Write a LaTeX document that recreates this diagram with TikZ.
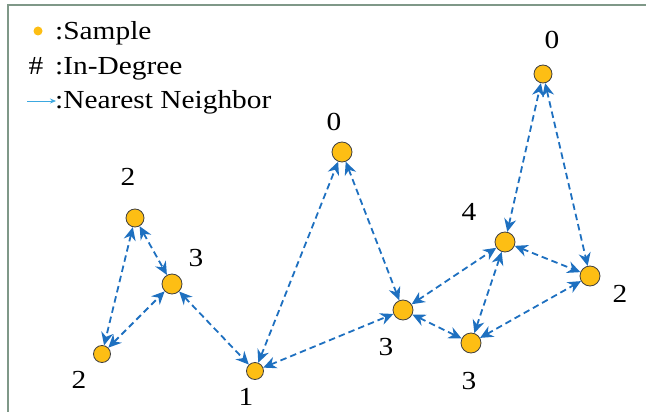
\documentclass[tikz,border=0pt]{standalone}
\usepackage{fontspec}
\setmainfont{Liberation Serif}
\usetikzlibrary{arrows.meta}
\definecolor{framegreen}{RGB}{127,152,136}
\definecolor{sampleorange}{RGB}{253,190,20}
\definecolor{nnblue}{RGB}{30,112,192}
\definecolor{legblue}{RGB}{60,168,224}
\newcommand{\widetxt}[1]{\scalebox{1.13}[1]{#1}}
\tikzset{
  sample/.style={circle, draw=black!75, line width=0.8pt, fill=sampleorange, inner sep=0pt, minimum size=#1},
  sample/.default=19pt,
  degree/.style={font=\fontsize{26}{30}\selectfont, inner sep=0pt},
  legtext/.style={font=\fontsize{26}{30}\selectfont, inner sep=0pt, anchor=base west},
  nn/.style={nnblue, line width=1.8pt, dash pattern=on 6.5pt off 4pt,
    {Stealth[length=13pt,width=12pt]}-{Stealth[length=13pt,width=12pt]}}
}
\begin{document}
\begin{tikzpicture}[x=1pt, y=-1pt]
    \useasboundingbox (0,0) rectangle (646,412);
    % 1. 边框
    \draw[framegreen, line width=2pt] (8,412) -- (8,5.5) -- (646,5.5);

    % 2. 图例
    \node[circle, fill=sampleorange, inner sep=0pt, minimum size=9pt] (legdot) at (38,31) {};
    \node[legtext] (legsample) at (55,40) {\widetxt{:Sample}};
    \node[legtext, anchor=base] (leghash) at (36,75) {\widetxt{\#}};
    \node[legtext] (legdegree) at (55,75) {\widetxt{:In-Degree}};
    \coordinate (legarrowA) at (27,101);
    \coordinate (legarrowB) at (56,101);
    \draw[legblue, line width=0.8pt, -{Stealth[length=6pt,width=5pt]}] (legarrowA) -- (legarrowB);
    \node[legtext] (legneighbor) at (55,109) {\widetxt{:Nearest Neighbor}};

    % 3. 样本点
    \node[sample=18pt] (sA) at (135,218) {};
    \node[sample=20pt] (sB) at (172,284) {};
    \node[sample=17pt] (sC) at (102,354) {};
    \node[sample=17pt] (sD) at (255,371) {};
    \node[sample=20pt] (sE) at (342,152) {};
    \node[sample=20pt] (sF) at (403,310) {};
    \node[sample=20pt] (sG) at (471,343) {};
    \node[sample=20pt] (sH) at (505,242) {};
    \node[sample=20pt] (sI) at (590,276) {};
    \node[sample=18pt] (sJ) at (543,74) {};

    % 4. 入度标号
    \node[degree] (dA) at (128,177) {\widetxt{2}};
    \node[degree] (dB) at (196,258) {\widetxt{3}};
    \node[degree] (dC) at (79,380) {\widetxt{2}};
    \node[degree] (dD) at (246,397) {\widetxt{1}};
    \node[degree] (dE) at (334,122) {\widetxt{0}};
    \node[degree] (dF) at (386,347) {\widetxt{3}};
    \node[degree] (dG) at (469,381) {\widetxt{3}};
    \node[degree] (dH) at (469,212) {\widetxt{4}};
    \node[degree] (dI) at (620,294) {\widetxt{2}};
    \node[degree] (dJ) at (552,40) {\widetxt{0}};

    % 5. 最近邻连线
    \draw[nn] (sA) -- (sB);
    \draw[nn] (sA) -- (sC);
    \draw[nn] (sC) -- (sB);
    \draw[nn] (sB) -- (sD);
    \draw[nn] (sD) -- (sE);
    \draw[nn] (sD) -- (sF);
    \draw[nn] (sE) -- (sF);
    \draw[nn] (sF) -- (sH);
    \draw[nn] (sF) -- (sG);
    \draw[nn] (sG) -- (sH);
    \draw[nn] (sG) -- (sI);
    \draw[nn] (sH) -- (sI);
    \draw[nn] (sH) -- (sJ);
    \draw[nn] (sJ) -- (sI);
\end{tikzpicture}
\end{document}
